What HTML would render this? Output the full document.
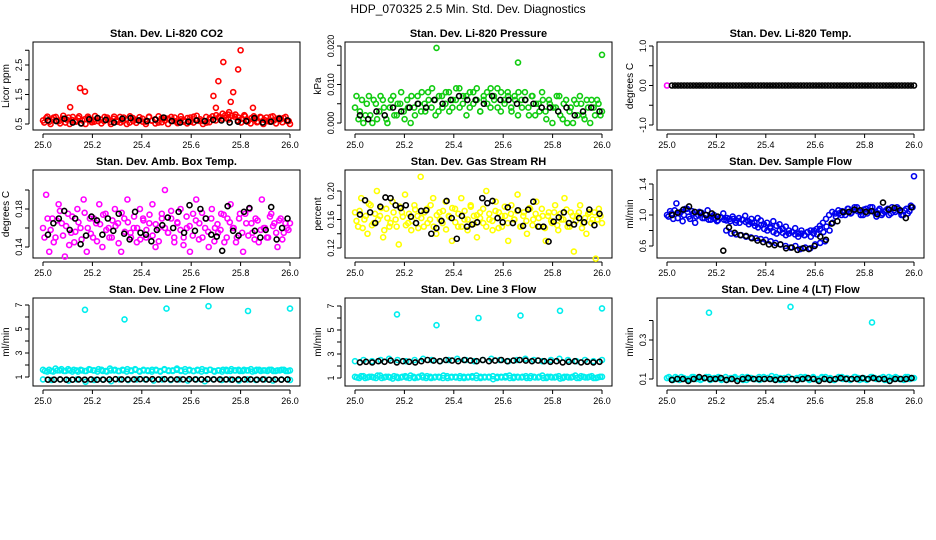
<!DOCTYPE html>
<html><head><meta charset="utf-8"><style>
body{margin:0;background:#fff;}
svg{display:block;font-family:"Liberation Sans",sans-serif;}
</style></head><body>
<svg id="chart" width="936" height="540" viewBox="0 0 936 540">
<rect width="936" height="540" fill="#fff"/>
<text x="468" y="13" text-anchor="middle" font-size="12">HDP_070325  2.5 Min. Std. Dev. Diagnostics</text>
</svg>
<script>
// ---- data ----
const p1Red=[0.62,0.7,0.58,0.66,0.74,0.6,0.68,0.55,0.72,0.64,0.6,0.7,0.52,0.66,0.75,0.62,0.58,0.7,0.65,0.6,0.72,0.57,0.68,0.63,0.74,0.6,0.66,0.55,0.7,0.64,0.62,0.68,0.58,0.73,0.61,0.66,0.55,0.7,0.62,0.68,0.6,0.72,0.56,0.66,0.63,0.7,0.58,0.75,0.62,0.66,0.6,0.55,0.7,0.64,0.8,0.75,0.85,0.7,0.9,0.78,0.82,0.72,0.68,0.76,0.62,0.7,0.66,0.58,0.72,0.64,0.6,0.74,0.62,0.68,0.65,0.7,0.6,0.5];
const p1Red2=[0.55,0.75,0.5,0.72,0.6,0.52,0.78,0.65,0.5,0.74,0.58,0.76,0.62,0.5,0.7,0.56,0.77,0.6,0.52,0.74,0.66,0.5,0.75,0.58,0.55,0.72,0.5,0.76,0.6,0.54,0.73,0.58,0.5,0.75,0.62,0.52,0.76,0.56,0.7,0.5,0.74,0.6,0.53,0.76,0.58,0.52,0.72,0.55,0.78,0.6,0.5,0.74,0.56,0.76,0.62,0.72,0.68,0.8,0.65,0.78,0.75,0.62,0.55,0.8,0.58,0.52,0.76,0.56,0.74,0.5,0.72,0.58,0.76,0.52,0.7,0.56,0.74,0.6];
const p1OutX=[25.11,25.15,25.17,25.69,25.7,25.71,25.73,25.75,25.76,25.77,25.79,25.8,25.85];
const p1OutY=[1.07,1.72,1.6,1.45,1.05,1.95,2.6,0.82,1.25,1.58,2.35,3.0,1.05];
const p1Black=[0.62,0.6,0.68,0.55,0.52,0.66,0.7,0.64,0.55,0.68,0.7,0.62,0.6,0.65,0.72,0.6,0.55,0.58,0.62,0.6,0.64,0.62,0.55,0.58,0.6,0.7,0.55,0.58,0.68,0.62];
const p2Green=[0.004,0.001,0.006,0.002,0.007,0.0,0.005,0.003,0.006,0.001,0.004,0.007,0.002,0.005,0.003,0.006,0.0,0.004,0.007,0.003,0.005,0.008,0.004,0.006,0.003,0.007,0.005,0.008,0.004,0.006,0.009,0.005,0.007,0.004,0.008,0.006,0.003,0.007,0.005,0.009,0.006,0.004,0.008,0.005,0.007,0.003,0.006,0.008,0.004,0.006,0.002,0.007,0.005,0.003,0.006,0.001,0.005,0.004,0.007,0.002,0.005,0.0,0.004,0.006,0.002,0.005,0.001,0.004,0.006,0.002,0.005,0.003];
const p2Green2=[0.007,0.003,0.0,0.005,0.002,0.006,0.001,0.007,0.004,0.0,0.006,0.002,0.005,0.008,0.001,0.004,0.007,0.002,0.005,0.008,0.003,0.006,0.009,0.002,0.007,0.004,0.008,0.003,0.006,0.009,0.004,0.007,0.002,0.008,0.005,0.009,0.003,0.006,0.008,0.004,0.007,0.009,0.003,0.006,0.008,0.004,0.007,0.002,0.006,0.008,0.004,0.007,0.002,0.005,0.008,0.003,0.006,0.0,0.004,0.007,0.001,0.006,0.003,0.0,0.005,0.007,0.002,0.006,0.0,0.004,0.006,0.002];
const p2OutX=[25.33,25.66,26.0];
const p2OutY=[0.0195,0.0157,0.0177];
const p2Black=[0.002,0.001,0.003,0.002,0.004,0.003,0.004,0.005,0.004,0.006,0.005,0.006,0.007,0.006,0.006,0.005,0.007,0.006,0.006,0.005,0.006,0.005,0.004,0.004,0.003,0.004,0.002,0.003,0.004,0.003];
const p3Mag=[0];
const p3Black=[0,0,0,0,0,0,0,0,0,0,0,0,0,0,0,0,0,0,0,0,0,0,0,0,0,0,0,0,0,0,0,0,0,0,0,0,0,0,0,0,0,0,0,0,0,0,0,0,0,0,0,0,0,0,0,0,0,0,0,0,0,0,0,0,0,0,0,0,0,0,0,0,0,0,0,0,0,0,0,0];
const p4Mag=[0.16,0.195,0.135,0.17,0.15,0.185,0.165,0.13,0.175,0.155,0.145,0.18,0.16,0.19,0.135,0.17,0.15,0.165,0.185,0.14,0.175,0.16,0.15,0.18,0.165,0.135,0.17,0.19,0.155,0.16,0.145,0.18,0.17,0.15,0.165,0.185,0.14,0.16,0.175,0.2,0.155,0.17,0.145,0.165,0.18,0.15,0.16,0.135,0.175,0.19,0.165,0.15,0.17,0.14,0.18,0.16,0.155,0.175,0.145,0.17,0.185,0.16,0.15,0.175,0.135,0.165,0.18,0.155,0.17,0.145,0.19,0.16,0.15,0.175,0.165,0.14,0.17,0.155,0.16,0.165];
const p4Mag2=[0.15,0.17,0.158,0.145,0.168,0.178,0.152,0.162,0.142,0.172,0.156,0.166,0.148,0.176,0.16,0.154,0.17,0.146,0.164,0.174,0.158,0.15,0.168,0.162,0.144,0.176,0.156,0.166,0.15,0.172,0.16,0.148,0.168,0.158,0.174,0.152,0.164,0.146,0.17,0.16,0.155,0.178,0.15,0.166,0.158,0.142,0.172,0.162,0.152,0.168,0.148,0.176,0.16,0.156,0.17,0.146,0.164,0.158,0.174,0.15,0.166,0.16,0.145,0.17,0.155,0.175,0.152,0.165,0.148,0.168,0.158,0.16,0.15,0.172,0.162,0.155,0.168,0.148,0.165,0.158];
const p4Black=[0.153,0.165,0.17,0.178,0.158,0.17,0.143,0.152,0.172,0.168,0.153,0.17,0.157,0.175,0.154,0.148,0.177,0.155,0.153,0.146,0.158,0.163,0.171,0.16,0.177,0.155,0.184,0.157,0.18,0.17,0.153,0.151,0.136,0.183,0.157,0.152,0.177,0.181,0.157,0.15,0.158,0.182,0.148,0.16,0.17];
const p5Yel=[0.17,0.15,0.19,0.16,0.14,0.18,0.155,0.2,0.165,0.135,0.175,0.15,0.185,0.16,0.125,0.17,0.195,0.155,0.145,0.18,0.165,0.22,0.15,0.175,0.16,0.19,0.14,0.17,0.155,0.185,0.165,0.13,0.175,0.15,0.19,0.16,0.145,0.18,0.165,0.135,0.17,0.155,0.2,0.16,0.145,0.185,0.17,0.15,0.165,0.13,0.18,0.16,0.195,0.15,0.17,0.14,0.175,0.16,0.185,0.15,0.165,0.13,0.17,0.155,0.18,0.145,0.16,0.19,0.15,0.17,0.115,0.165,0.18,0.155,0.14,0.17,0.16,0.105,0.175,0.155];
const p5Yel2=[0.158,0.172,0.148,0.165,0.182,0.152,0.168,0.16,0.176,0.145,0.162,0.155,0.17,0.15,0.178,0.164,0.152,0.168,0.158,0.174,0.148,0.162,0.17,0.155,0.18,0.15,0.166,0.16,0.172,0.146,0.164,0.176,0.156,0.168,0.15,0.172,0.16,0.178,0.154,0.166,0.162,0.175,0.15,0.168,0.158,0.172,0.148,0.165,0.178,0.155,0.168,0.16,0.172,0.15,0.165,0.158,0.176,0.152,0.168,0.162,0.175,0.148,0.165,0.158,0.17,0.152,0.168,0.16,0.174,0.15,0.165,0.158,0.17,0.148,0.162,0.168,0.155,0.17,0.16,0.165];
const p5Black=[0.167,0.187,0.17,0.155,0.178,0.191,0.19,0.18,0.176,0.18,0.164,0.155,0.172,0.173,0.14,0.148,0.158,0.186,0.162,0.133,0.165,0.15,0.153,0.156,0.19,0.183,0.186,0.162,0.156,0.177,0.155,0.173,0.151,0.174,0.185,0.15,0.15,0.129,0.157,0.163,0.17,0.155,0.153,0.162,0.156,0.174,0.152,0.168];
const p6BlueUp=[1.0,1.05,0.95,1.15,1.02,0.92,1.08,0.98,1.05,0.9,1.0,1.03,0.96,1.06,0.94,1.0,0.92,0.97,1.02,0.93,0.95,0.98,0.9,0.96,0.94,0.99,0.92,0.95,0.9,0.96,0.93,0.88,0.9,0.85,0.92,0.86,0.88,0.82,0.85,0.8,0.78,0.83,0.76,0.8,0.74,0.78,0.72,0.8,0.75,0.82,0.78,0.85,0.8,0.9,0.98,1.02,1.05,1.0,1.08,1.03,1.1,1.05,1.0,1.07,1.02,1.1,1.05,0.98,1.08,1.02,1.06,1.0,1.1,1.04,1.08,1.0,1.06,1.02,1.12,1.5];
const p6Blue2=[0.98,1.02,1.06,0.96,1.04,1.0,1.08,0.95,1.02,0.98,1.04,0.96,1.0,0.94,0.98,0.95,0.93,0.97,0.94,0.96,0.92,0.95,0.93,0.9,0.94,0.91,0.88,0.9,0.86,0.84,0.87,0.82,0.8,0.83,0.78,0.76,0.8,0.77,0.74,0.76,0.78,0.75,0.72,0.76,0.74,0.78,0.8,0.76,0.82,0.86,0.9,0.95,1.0,1.04,1.02,1.06,1.0,1.04,1.08,1.02,1.06,1.1,1.04,1.0,1.08,1.05,1.1,1.02,1.06,1.0,1.04,1.08,1.02,1.06,1.1,1.04,1.0,1.08,1.05,1.1];
const p6BlueLowX=[25.24,25.26,25.28,25.3,25.32,25.34,25.36,25.38,25.4,25.42,25.44,25.46,25.48,25.5,25.52,25.54,25.56,25.58,25.6,25.62,25.64];
const p6BlueLowY=[0.8,0.76,0.75,0.74,0.72,0.71,0.7,0.69,0.68,0.66,0.64,0.62,0.6,0.58,0.6,0.56,0.58,0.57,0.62,0.64,0.66];
const p6Black=[1.0,1.03,1.07,1.11,1.04,1.03,1.0,1.02,0.98,0.54,0.84,0.77,0.74,0.73,0.7,0.67,0.65,0.62,0.61,0.62,0.57,0.58,0.55,0.57,0.56,0.6,0.72,0.68,0.89,0.92,1.04,1.04,1.07,1.06,1.04,1.05,1.01,1.16,1.07,1.09,1.06,0.96,1.1];
const p7CyanBand=[1.6,1.45,1.5,1.7,1.55,1.5,1.65,1.45,1.55,1.6,1.5,1.65,1.55,1.45,1.6,1.5,1.7,1.55,1.5,1.6,1.45,1.55,1.65,1.5,1.6,1.55,1.45,1.6,1.5,1.65,1.55,1.5,1.7,1.55,1.45,1.6,1.5,1.55,1.65,1.5,1.6,1.45,1.55,1.6,1.5,1.65,1.55,1.5,1.6,1.55,1.45,1.6,1.5,1.55,1.6,1.5,1.55,1.6,1.5,1.55];
const p7Cyan2=[1.5,1.6,1.45,1.55,1.65,1.5,1.55,1.6,1.45,1.55,1.5,1.6,1.55,1.65,1.5,1.45,1.55,1.6,1.5,1.55,1.65,1.5,1.6,1.45,1.55,1.5,1.6,1.55,1.45,1.6,1.5,1.55,1.6,1.5,1.65,1.55,1.5,1.6,1.45,1.55,1.6,1.5,1.55,1.45,1.6,1.5,1.55,1.6,1.5,1.55,1.65,1.5,1.6,1.55,1.5,1.6,1.5,1.55,1.6,1.5];
const p7CyanLow=[0.8,0.75,0.8,0.7,0.8,0.6,0.75,0.8,0.65,0.8,0.75,0.8,0.8,0.7,0.8,0.75,0.8,0.7,0.8,0.65,0.8,0.75,0.8,0.7,0.8,0.75,0.8,0.7,0.8,0.75];
const p7Black=[0.78,0.78,0.8,0.78,0.78,0.8,0.78,0.8,0.78,0.78,0.8,0.82,0.8,0.8,0.8,0.82,0.8,0.82,0.8,0.82,0.8,0.8,0.8,0.82,0.8,0.8,0.82,0.8,0.8,0.8,0.78,0.8,0.8,0.8,0.78,0.8,0.78,0.8,0.78,0.8];
const p7OutX=[25.17,25.33,25.5,25.67,25.83,26.0];
const p7OutY=[6.6,5.8,6.7,6.9,6.5,6.7];
const p8CyanBand=[1.1,1.0,1.15,1.05,1.1,1.0,1.2,1.05,1.1,0.95,1.1,1.05,1.15,1.0,1.1,1.05,1.2,1.0,1.1,1.05,1.1,1.0,1.15,1.05,1.1,1.0,1.1,1.05,1.15,1.0,1.1,1.05,1.1,0.9,1.1,1.05,1.15,1.0,1.1,1.05,1.1,1.0,1.15,1.05,1.1,1.0,1.1,1.05,1.1,0.95,1.1,1.05,1.1,1.0,1.15,1.05,1.1,1.0,1.05,1.1];
const p8Cyan2=[1.05,1.15,1.0,1.1,1.05,1.2,1.0,1.1,1.05,1.15,1.0,1.1,1.05,1.2,1.0,1.1,1.05,1.15,1.0,1.1,1.05,1.2,1.0,1.1,1.05,1.15,1.0,1.1,1.05,1.2,1.0,1.1,1.05,1.15,1.0,1.1,1.05,1.2,1.0,1.1,1.05,1.15,1.0,1.1,1.05,1.2,1.0,1.1,1.05,1.15,1.0,1.1,1.05,1.2,1.0,1.1,1.05,1.15,1.0,1.1];
const p8CyanUp=[2.4,2.5,2.4,2.5,2.6,2.5,2.4,2.5,2.6,2.5,2.4,2.5,2.6,2.5,2.4,2.5,2.6,2.5,2.4,2.5,2.6,2.5,2.4,2.5,2.6,2.5,2.4,2.5,2.4,2.5];
const p8Black=[2.3,2.35,2.3,2.4,2.35,2.45,2.3,2.4,2.35,2.3,2.4,2.5,2.45,2.4,2.5,2.45,2.4,2.5,2.45,2.4,2.5,2.4,2.45,2.5,2.4,2.45,2.5,2.45,2.4,2.45,2.4,2.35,2.4,2.3,2.35,2.4,2.3,2.35,2.3,2.35];
const p8OutX=[25.17,25.33,25.5,25.67,25.83,26.0];
const p8OutY=[6.3,5.4,6.0,6.2,6.6,6.8];
const p9CyanBand=[0.105,0.1,0.11,0.095,0.105,0.1,0.11,0.1,0.095,0.105,0.11,0.1,0.105,0.095,0.11,0.1,0.105,0.1,0.11,0.095,0.105,0.1,0.11,0.1,0.105,0.115,0.1,0.105,0.095,0.11,0.1,0.105,0.1,0.11,0.095,0.105,0.1,0.11,0.1,0.105,0.095,0.11,0.1,0.105,0.1,0.11,0.095,0.105,0.1,0.11,0.1,0.105,0.095,0.11,0.1,0.105,0.1,0.11,0.1,0.105];
const p9Cyan2=[0.11,0.095,0.105,0.11,0.1,0.095,0.11,0.105,0.1,0.11,0.095,0.105,0.11,0.1,0.095,0.105,0.11,0.1,0.095,0.11,0.105,0.1,0.095,0.11,0.105,0.1,0.11,0.095,0.105,0.11,0.1,0.095,0.11,0.105,0.1,0.11,0.095,0.105,0.11,0.1,0.095,0.105,0.11,0.1,0.095,0.11,0.105,0.1,0.095,0.11,0.105,0.1,0.11,0.095,0.105,0.11,0.1,0.095,0.11,0.105];
const p9Black=[0.095,0.1,0.1,0.09,0.1,0.11,0.105,0.1,0.1,0.105,0.095,0.1,0.09,0.1,0.105,0.1,0.1,0.1,0.1,0.095,0.1,0.1,0.1,0.095,0.1,0.105,0.1,0.09,0.1,0.095,0.1,0.105,0.1,0.1,0.1,0.105,0.1,0.105,0.1,0.1,0.09,0.1,0.1,0.1,0.105];
const p9OutX=[25.17,25.5,25.83];
const p9OutY=[0.44,0.47,0.39];
const xTicks=[25.0,25.2,25.4,25.6,25.8,26.0];
const xTickLabels=["25.0","25.2","25.4","25.6","25.8","26.0"];

// ---- layout ----
const colX0=[43,355,667], rowTop=[42,170,298], rowBot=[130,258,386];
const panels=[
 {name:"co2",title:"Stan. Dev. Li-820 CO2",ylab:"Licor ppm",c:0,r:0,ref:[0.5,124,2.5,65],ticks:[0.5,1,1.5,2,2.5,3],labels:{"0.5":"0.5","1.5":"1.5","2.5":"2.5"},
  series:[{col:"#f00",y:p1Red},{col:"#f00",y:p1Red2,s:25.005,e:25.995},{col:"#f00",x:p1OutX,y:p1OutY},{col:"#000",y:p1Black,s:25.02,e:25.99}]},
 {name:"pressure",title:"Stan. Dev. Li-820 Pressure",ylab:"kPa",c:1,r:0,ref:[0,123,0.02,46],ticks:[0,0.005,0.01,0.015,0.02],labels:{"0":"0.000","0.01":"0.010","0.02":"0.020"},
  series:[{col:"#1c1",y:p2Green},{col:"#1c1",y:p2Green2,s:25.006,e:25.994},{col:"#1c1",x:p2OutX,y:p2OutY},{col:"#000",y:p2Black,s:25.02,e:25.99}]},
 {name:"temp",title:"Stan. Dev. Li-820 Temp.",ylab:"degrees C",c:2,r:0,ref:[-1,125,1,46],ticks:[-1,-0.5,0,0.5,1],labels:{"-1":"-1.0","0":"0.0","1":"1.0"},
  series:[{col:"#f0f",y:p3Mag,s:25.0,e:25.0},{col:"#000",y:p3Black,s:25.02,e:26.0}]},
 {name:"box-temp",title:"Stan. Dev. Amb. Box Temp.",ylab:"degrees C",c:0,r:1,ref:[0.14,247,0.18,209],ticks:[0.14,0.16,0.18,0.2],labels:{"0.14":"0.14","0.18":"0.18"},
  series:[{col:"#f0f",y:p4Mag},{col:"#f0f",y:p4Mag2,s:25.006,e:25.994},{col:"#000",y:p4Black,s:25.02,e:25.99}]},
 {name:"rh",title:"Stan. Dev. Gas Stream RH",ylab:"percent",c:1,r:1,ref:[0.12,248,0.2,191],ticks:[0.12,0.14,0.16,0.18,0.2],labels:{"0.12":"0.12","0.16":"0.16","0.2":"0.20"},
  series:[{col:"#ff0",y:p5Yel},{col:"#ff0",y:p5Yel2,s:25.006,e:25.994},{col:"#000",y:p5Black,s:25.02,e:25.99}]},
 {name:"sample-flow",title:"Stan. Dev. Sample Flow",ylab:"ml/min",c:2,r:1,ref:[0.6,246,1.4,184],ticks:[0.6,0.8,1,1.2,1.4],labels:{"0.6":"0.6","1":"1.0","1.4":"1.4"},
  series:[{col:"#00e",y:p6BlueUp},{col:"#00e",y:p6Blue2,s:25.006,e:25.994},{col:"#00e",x:p6BlueLowX,y:p6BlueLowY},{col:"#000",y:p6Black,s:25.02,e:25.99}]},
 {name:"line2-flow",title:"Stan. Dev. Line 2 Flow",ylab:"ml/min",c:0,r:2,ref:[1,377,7,305],ticks:[1,2,3,4,5,6,7],labels:{"1":"1","3":"3","5":"5","7":"7"},
  series:[{col:"#0ee",y:p7CyanBand},{col:"#0ee",y:p7Cyan2,s:25.008,e:25.992},{col:"#0ee",y:p7CyanLow},{col:"#000",y:p7Black,s:25.02,e:25.99},{col:"#0ee",x:p7OutX,y:p7OutY}]},
 {name:"line3-flow",title:"Stan. Dev. Line 3 Flow",ylab:"ml/min",c:1,r:2,ref:[1,378,7,306],ticks:[1,2,3,4,5,6,7],labels:{"1":"1","3":"3","5":"5","7":"7"},
  series:[{col:"#0ee",y:p8CyanBand},{col:"#0ee",y:p8Cyan2,s:25.008,e:25.992},{col:"#0ee",y:p8CyanUp},{col:"#000",y:p8Black,s:25.02,e:25.99},{col:"#0ee",x:p8OutX,y:p8OutY}]},
 {name:"line4-flow",title:"Stan. Dev. Line 4 (LT) Flow",ylab:"ml/min",c:2,r:2,ref:[0.1,379,0.3,340],ticks:[0.1,0.2,0.3,0.4],labels:{"0.1":"0.1","0.3":"0.3"},
  series:[{col:"#0ee",y:p9CyanBand},{col:"#0ee",y:p9Cyan2,s:25.008,e:25.992},{col:"#000",y:p9Black,s:25.02,e:25.99},{col:"#0ee",x:p9OutX,y:p9OutY}]}
];
const NS="http://www.w3.org/2000/svg", svg=document.getElementById("chart");
function mk(tag,attrs,parent){const e=document.createElementNS(NS,tag);for(const k in attrs)e.setAttribute(k,attrs[k]);(parent||svg).appendChild(e);return e;}
panels.forEach(p=>{
  const x0=colX0[p.c], top=rowTop[p.r], bot=rowBot[p.r], left=x0-10, right=x0+257;
  const xs=v=>x0+(v-25)*247;
  const ys=v=>p.ref[1]+(v-p.ref[0])*(p.ref[3]-p.ref[1])/(p.ref[2]-p.ref[0]);
  const g=mk("g",{});
  
  
  const t=mk("text",{x:(left+right)/2,y:top-5,"text-anchor":"middle","font-size":"11","font-weight":"bold"},g);
  t.textContent=p.title;
  
  
  const fr=mk("rect",{x:left,y:top,width:right-left,height:bot-top,fill:"none",stroke:"#000","stroke-width":1},g);
  
  
  mk("line",{x1:xs(25),x2:xs(26),y1:bot+4,y2:bot+4,stroke:"#000"},g);
  xTicks.forEach((v,i)=>{
    mk("line",{x1:xs(v),x2:xs(v),y1:bot+4,y2:bot+8,stroke:"#000"},g);
    const l=mk("text",{x:xs(v),y:bot+18,"text-anchor":"middle","font-size":"9"},g);
    l.textContent=xTickLabels[i];
    
    
  });
  mk("line",{x1:left-4,x2:left-4,y1:ys(p.ticks[0]),y2:ys(p.ticks[p.ticks.length-1]),stroke:"#000"},g);
  p.ticks.forEach(v=>{
    mk("line",{x1:left-8,x2:left-4,y1:ys(v),y2:ys(v),stroke:"#000"},g);
    const key=String(v);
    if(p.labels[key]!==undefined){
      const l=mk("text",{x:0,y:0,"text-anchor":"middle","font-size":"9",transform:`translate(${left-11},${ys(v)}) rotate(-90)`},g);
      l.textContent=p.labels[key];
      
      
    }
  });
  const yl=mk("text",{x:0,y:0,"text-anchor":"middle","font-size":"10",transform:`translate(${left-24},${(top+bot)/2}) rotate(-90)`},g);
  yl.textContent=p.ylab;
  
  
  p.series.forEach(s=>{
    const n=s.y.length, st=s.s!==undefined?s.s:25.0, en=s.e!==undefined?s.e:26.0;
    s.y.forEach((v,i)=>{
      const xv=s.x?s.x[i]:(n>1?st+(en-st)*i/(n-1):st);
      const c=mk("circle",{cx:xs(xv),cy:ys(v),r:2.5,fill:"none",stroke:s.col,"stroke-width":1.6},g);
      
      
    });
  });
});
</script>
</body></html>
